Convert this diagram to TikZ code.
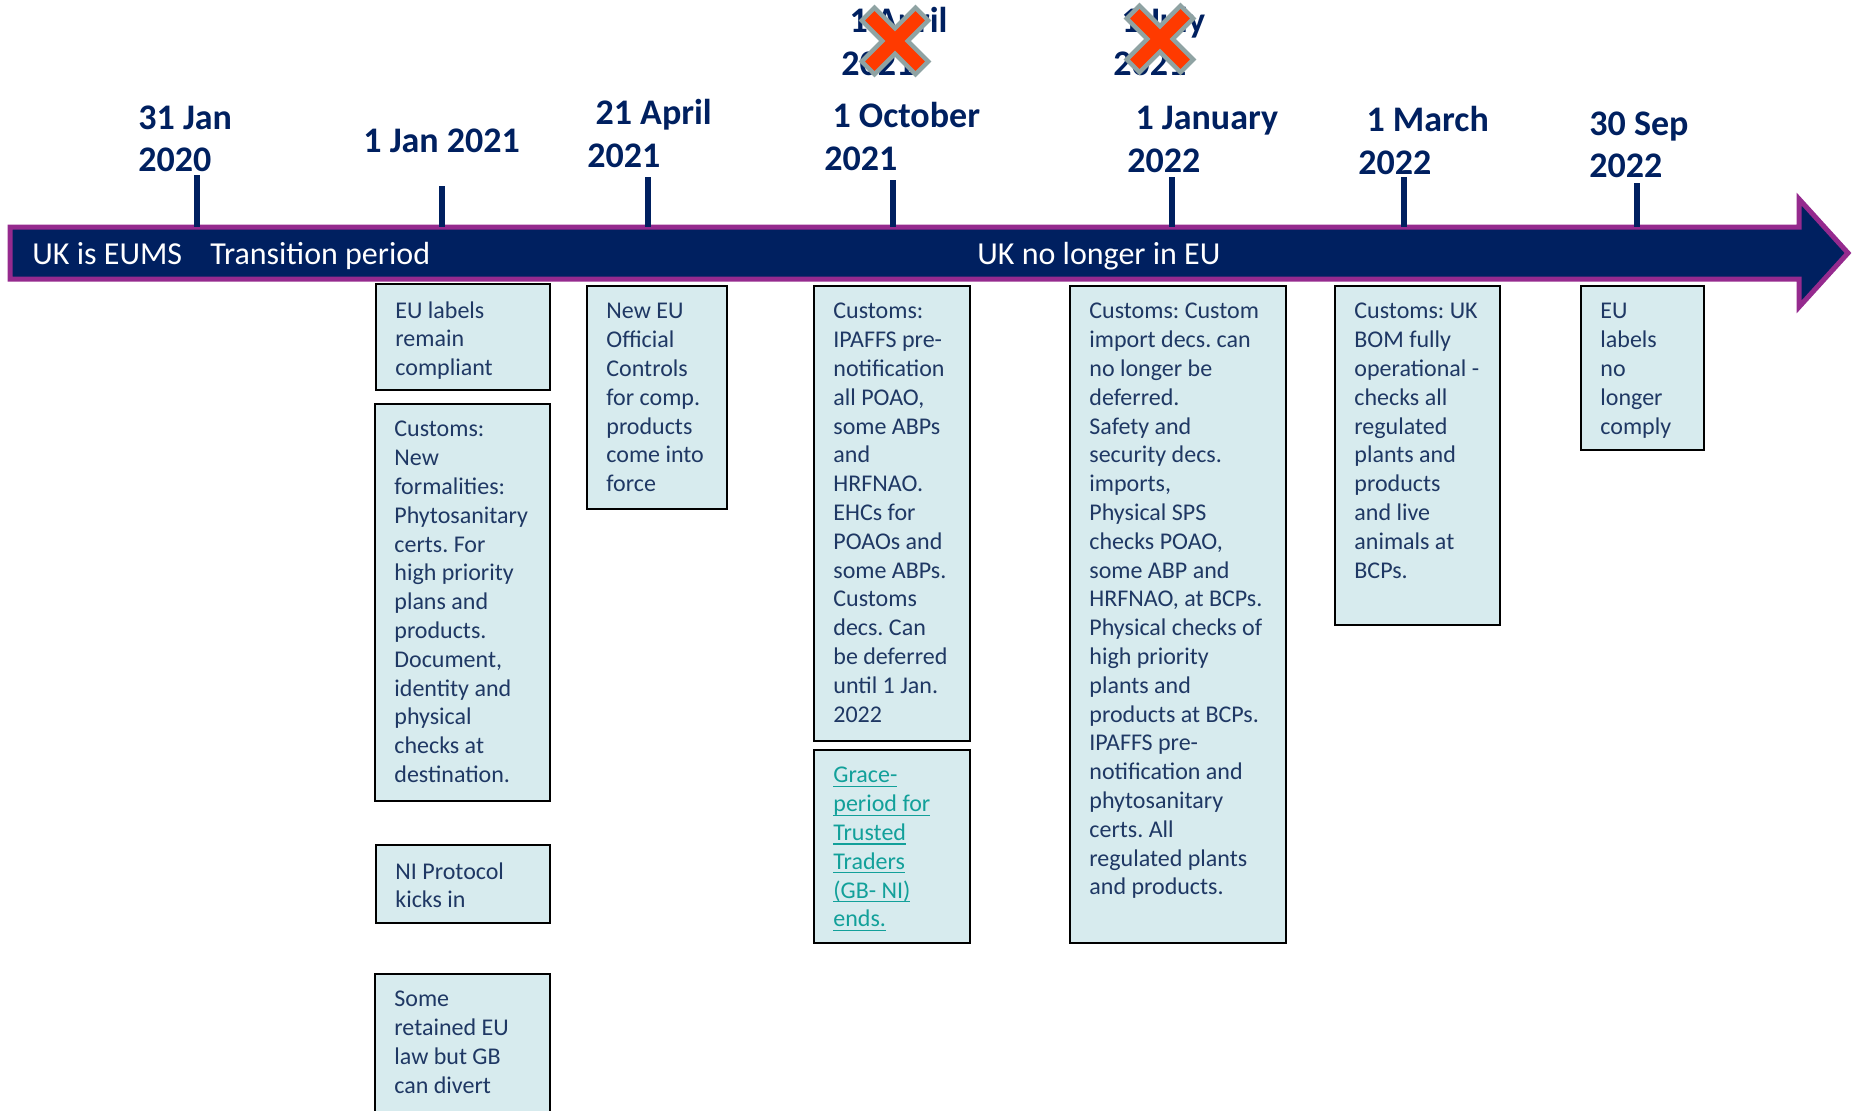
\documentclass[tikz,border=0pt]{standalone}
\usepackage{fontspec}
\setmainfont{Carlito}
\usepackage{tikz}
\usetikzlibrary{positioning, fit}

\definecolor{navy}{HTML}{002060}
\definecolor{barrim}{HTML}{952A8E}
\definecolor{boxfill}{HTML}{D7EBEE}
\definecolor{boxtext}{HTML}{1F3864}
\definecolor{linkteal}{HTML}{12A09A}
\definecolor{crossred}{HTML}{FF3A00}
\definecolor{crossgrey}{HTML}{8FA3A3}

% underlined link text
\newcommand{\lnk}[1]{\setbox0\hbox{#1}\rlap{\vrule height -1.4pt depth 2pt width \wd0}\box0}

\tikzset{
  datelabel/.style={anchor=north west, inner sep=0pt, align=left, text=navy, font=\fontsize{18}{21.3}\selectfont\bfseries},
  barlabel/.style={anchor=base west, inner sep=0pt, text=white, font=\fontsize{16}{19}\selectfont},
  tickline/.style={navy, line width=2.6pt},
  evbox/.style={draw=black, line width=1pt, fill=boxfill, inner sep=0pt},
  evtext/.style={anchor=north west, inner sep=0pt, align=left, text=boxtext, font=\fontsize{12}{14.4}\selectfont},
  crossmark/.style={fill=crossred, draw=crossgrey, line width=2.2pt, line join=miter}
}

\begin{document}
\frenchspacing
\begin{tikzpicture}[x=0.5pt, y=-0.5pt]
\useasboundingbox (0,0) rectangle (1853,1110);

% timeline arrow
\draw[draw=barrim, fill=navy, line width=2.5pt, line join=miter]
  (10,227) -- (1799,227) -- (1799,199) -- (1848,253) -- (1799,307) -- (1799,279) -- (10,279) -- cycle;
\node[barlabel] (eums) at (32,264) {UK is EUMS};
\node[barlabel] (transition) at (210,264) {Transition period};
\node[barlabel] (nolonger) at (977,264) {UK no longer in EU};

% ticks
\foreach \x/\y in {197/175, 442/186, 648/177, 893/180, 1172/177, 1404/177, 1637/183}
  \draw[tickline] (\x,\y) -- (\x,227);

% dates
\node[datelabel] (d2020) at (138,105) {31 Jan\\2020};
\node[datelabel] (djan21) at (363,128) {1 Jan 2021};
\node[datelabel] (dapr21) at (587,99) {\ 21 April\\2021};
\node[datelabel] (doct21) at (824,102) {\ 1 October\\2021};
\node[datelabel] (djan22) at (1127,106) {\ 1 January\\2022};
\node[datelabel] (dmar22) at (1358,106) {\ 1 March\\2022};
\node[datelabel] (dsep22) at (1589,111) {30 Sep\\2022};
\node[datelabel] (dapr) at (841,7) {\ 1 April\\2021};
\node[datelabel] (djul) at (1113,7) {\ 1 July\\2021};

% event boxes
\node[evbox, fit={(376,284) (550,390)}] (eulabels) {};
\node[evtext] (eulabelsT) at ([shift={(20,18)}]eulabels.north west) {EU labels\\remain\\compliant};

\node[evbox, fit={(375,404) (550,801)}] (formal) {};
\node[evtext] (formalT) at ([shift={(20,18)}]formal.north west) {Customs:\\New\\formalities:\\Phytosanitary\\certs. For\\high priority\\plans and\\products.\\Document,\\identity and\\physical\\checks at\\destination.};

\node[evbox, fit={(376,845) (550,923)}] (niproto) {};
\node[evtext] (niprotoT) at ([shift={(20,18)}]niproto.north west) {NI Protocol\\kicks in};

\node[evbox, fit={(375,974) (550,1125)}] (retained) {};
\node[evtext] (retainedT) at ([shift={(20,18)}]retained.north west) {Some\\retained EU\\law but GB\\can divert};

\node[evbox, fit={(587,286) (727,509)}] (official) {};
\node[evtext] (officialT) at ([shift={(20,18)}]official.north west) {New EU\\Official\\Controls\\for comp.\\products\\come into\\force};

\node[evbox, fit={(814,286) (970,741)}] (ipaffs) {};
\node[evtext] (ipaffsT) at ([shift={(20,18)}]ipaffs.north west) {Customs:\\IPAFFS pre-\\notification\\all POAO,\\some ABPs\\and\\HRFNAO.\\EHCs for\\POAOs and\\some ABPs.\\Customs\\decs. Can\\be deferred\\until 1 Jan.\\2022};

\node[evbox, fit={(814,750) (970,943)}] (grace) {};
\node[evtext, text=linkteal] (graceT) at ([shift={(20,18)}]grace.north west) {\lnk{Grace-}\\\lnk{period for}\\\lnk{Trusted}\\\lnk{Traders}\\\lnk{(GB- NI)}\\\lnk{ends.}};

\node[evbox, fit={(1070,286) (1286,943)}] (fullchecks) {};
\node[evtext] (fullchecksT) at ([shift={(20,18)}]fullchecks.north west) {Customs: Custom\\import decs. can\\no longer be\\deferred.\\Safety and\\security decs.\\imports,\\Physical SPS\\checks POAO,\\some ABP and\\HRFNAO, at BCPs.\\Physical checks of\\high priority\\plants and\\products at BCPs.\\IPAFFS pre-\\notification and\\phytosanitary\\certs. All\\regulated plants\\and products.};

\node[evbox, fit={(1335,286) (1500,625)}] (bom) {};
\node[evtext] (bomT) at ([shift={(20,18)}]bom.north west) {Customs: UK\\BOM fully\\operational -\\checks all\\regulated\\plants and\\products\\and live\\animals at\\BCPs.};

\node[evbox, fit={(1581,286) (1704,450)}] (nocomply) {};
\node[evtext] (nocomplyT) at ([shift={(20,18)}]nocomply.north west) {EU\\labels\\no\\longer\\comply};

% crossed-out dates
\foreach \cx/\cy in {895/41, 1160/39}
  \draw[crossmark, shift={(\cx,\cy)}, rotate=45]
    (9,38) -- (-9,38) -- (-9,9) -- (-38,9) -- (-38,-9) -- (-9,-9) -- (-9,-38) -- (9,-38) -- (9,-9) -- (38,-9) -- (38,9) -- (9,9) -- cycle;
\end{tikzpicture}
\end{document}
